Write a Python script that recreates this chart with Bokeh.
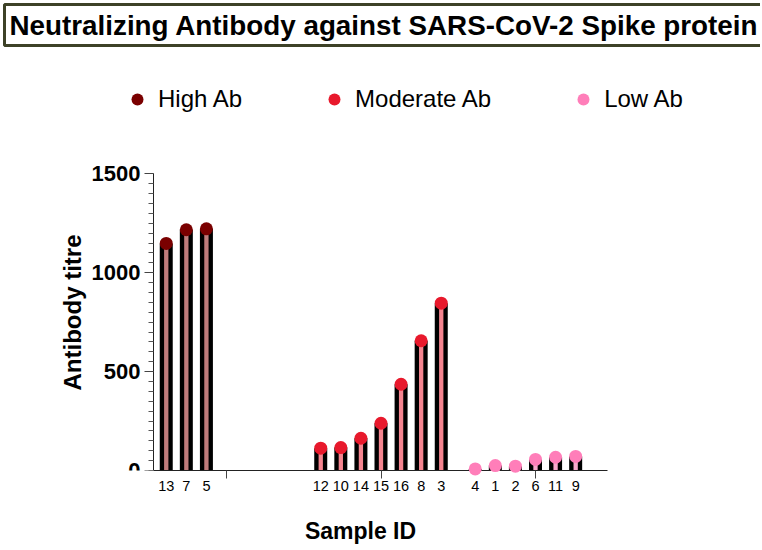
import math
from bokeh.plotting import figure
from bokeh.models import (Range1d, FixedTicker, Title, Label, LinearAxis,
                          Legend, LegendItem, ColumnDataSource)
from bokeh.core.properties import value
from bokeh.embed import file_html
from bokeh.resources import INLINE

# ---------------- data ----------------
title_text = "Neutralizing Antibody against SARS-CoV-2 Spike protein"
group_names = ["High Ab", "Moderate Ab", "Low Ab"]
high_ids = ["13", "7", "5"]
high_vals = [1148, 1217, 1222]
moderate_ids = ["12", "10", "14", "15", "16", "8", "3"]
moderate_vals = [113, 116, 163, 239, 436, 656, 846]
low_ids = ["4", "1", "2", "6", "11", "9"]
low_vals = [8, 25, 22, 56, 67, 71]
group_centers = [0, 1, 2]
y_ticks = [0, 500, 1000, 1500]
y_minor_step = 50
y_max = 1500
x_title = "Sample ID"
y_title = "Antibody titre"

# ---------------- style / layout ----------------
FONT = "Liberation Sans"
dot_colors = ["#7A0000", "#E8192C", "#FF7EB9"]
stripe_colors = ["#C07C7C", "#F4848F", "#F9A8CC"]
slot = 0.13
center_slot = 3

FRAME_L, FRAME_R = 30, 690           # frame edges (px)
FRAME_T, FRAME_B = 45, 470
AXIS_L, AXIS_R = 153, 607            # visible axis extent (px)
AXIS_TOP = 173.3                     # px of y = 1500
G0_PX = 226.0                        # px of first group centre
PX_PER_GROUP = 154.5
px_per_unit = (FRAME_B - AXIS_TOP) / y_max

x_start = -(G0_PX - FRAME_L) / PX_PER_GROUP
x_end = x_start + (FRAME_R - FRAME_L) / PX_PER_GROUP
ax_lo = -(G0_PX - AXIS_L) / PX_PER_GROUP
ax_hi = (AXIS_R - G0_PX) / PX_PER_GROUP
y_end = (FRAME_B - FRAME_T) / px_per_unit

p = figure(frame_width=FRAME_R - FRAME_L, frame_height=FRAME_B - FRAME_T,
           output_backend="svg", toolbar_location=None,
           x_range=Range1d(x_start, x_end), y_range=Range1d(0, y_end),
           min_border_left=FRAME_L, min_border_right=760 - FRAME_R,
           min_border_top=FRAME_T, min_border_bottom=78)
p.xgrid.visible = False
p.ygrid.visible = False
p.outline_line_color = None
p.background_fill_color = "white"
p.border_fill_color = "white"

groups = [(high_ids, high_vals), (moderate_ids, moderate_vals), (low_ids, low_vals)]
all_x = []
overrides = {}
items = []
for g, (ids, vals) in enumerate(groups):
    xs = [round(group_centers[g] + (i - center_slot) * slot, 4) for i in range(len(ids))]
    all_x += xs
    for xx, lab in zip(xs, ids):
        overrides[xx] = lab
    src = ColumnDataSource(dict(x=xs, top=vals, sample=ids))
    p.vbar(x="x", top="top", bottom=0, width=13 / PX_PER_GROUP, source=src,
           fill_color="black", line_color=None)
    p.vbar(x="x", top="top", bottom=0, width=4.3 / PX_PER_GROUP, source=src,
           fill_color=stripe_colors[g], line_color=None)
    r = p.scatter(x="x", y="top", size=13, source=src, fill_color=dot_colors[g],
                  line_color=None, level="overlay")
    items.append(LegendItem(label=group_names[g], renderers=[r]))

# y axis: line + minor ticks (every 50)
y_minor = list(range(0, y_max + 1, y_minor_step))
yax = p.yaxis[0]
yax.ticker = FixedTicker(ticks=[], minor_ticks=y_minor)
yax.bounds = (0, y_max)
yax.fixed_location = ax_lo
yax.axis_line_color = "#222222"
yax.minor_tick_line_color = "#555555"
yax.minor_tick_out = 5
yax.minor_tick_in = 0
yax.major_tick_out = 0
yax.major_tick_in = 0

# second y axis at the same place: the long ticks at the labelled values
yax2 = LinearAxis(ticker=FixedTicker(ticks=[], minor_ticks=y_ticks),
                  bounds=(0, y_max), fixed_location=ax_lo,
                  axis_line_color=None, minor_tick_line_color="#444444",
                  minor_tick_out=9, minor_tick_in=0, major_tick_out=0,
                  major_tick_in=0)
p.add_layout(yax2, "left")

# y tick labels and title
tick_src = ColumnDataSource(dict(x=[ax_lo] * len(y_ticks), y=y_ticks,
                                 t=[str(v) for v in y_ticks]))
p.text(x="x", y="y", text="t", source=tick_src, x_offset=-13,
       text_align="right", text_baseline="middle", text_font=value(FONT),
       text_font_style="bold", text_font_size=value("22px"), text_color="black")
p.add_layout(Label(x=ax_lo, y=(FRAME_B - 312) / px_per_unit, x_offset=-81,
                   text=y_title, angle=math.pi / 2, text_align="center",
                   text_baseline="middle", text_font=FONT, text_font_style="bold",
                   text_font_size="24px", text_color="black"))

# x axis
xax = p.xaxis[0]
xax.ticker = FixedTicker(ticks=all_x, minor_ticks=group_centers)
xax.bounds = (ax_lo, ax_hi)
xax.major_label_overrides = overrides
xax.axis_line_color = "#222222"
xax.major_tick_out = 0
xax.major_tick_in = 0
xax.minor_tick_out = 8
xax.minor_tick_in = 0
xax.minor_tick_line_color = "#444444"
xax.major_label_text_font = FONT
xax.major_label_text_font_size = "14.5px"
xax.major_label_text_color = "black"
xax.major_label_standoff = 2
xax.axis_label = x_title
xax.axis_label_text_font = FONT
xax.axis_label_text_font_style = "bold"
xax.axis_label_text_font_size = "23px"
xax.axis_label_text_color = "black"
xax.axis_label_standoff = 24

legend = Legend(items=items, orientation="horizontal",
                location=(122 - FRAME_L, FRAME_B - 114),
                spacing=77, label_standoff=6, glyph_width=30, glyph_height=30,
                padding=0, margin=0, border_line_color=None, background_fill_alpha=0,
                label_text_font=FONT, label_text_font_size="24px",
                label_text_color="black")
p.add_layout(legend)

title = Title(text=title_text, align="left", offset=4 - FRAME_L, text_font=FONT,
              text_font_style="bold", text_font_size="27.8px", text_color="black",
              border_line_color="#3d4127", border_line_width=3,
              background_fill_color="white", padding=5, standoff=0)
p.add_layout(title, "above")

open("out.html", "w").write(file_html(p, INLINE))
